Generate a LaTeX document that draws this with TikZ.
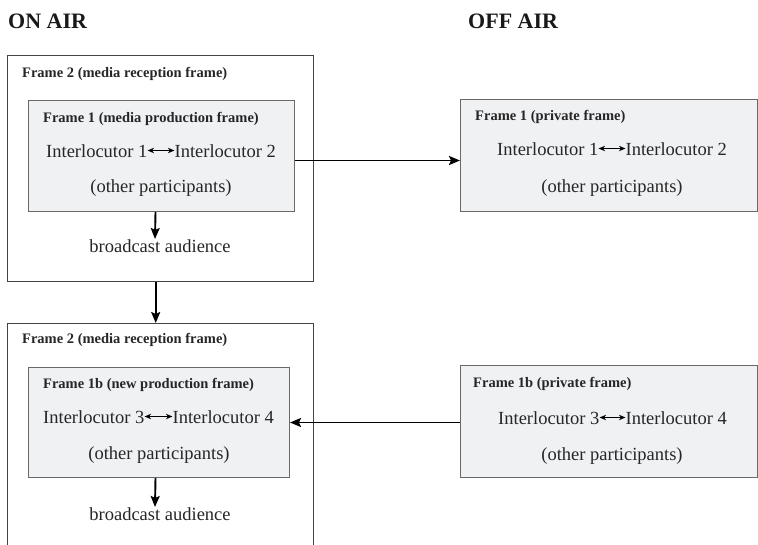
\documentclass[tikz,border=0pt]{standalone}
\usepackage{fontspec}
\setmainfont{Liberation Serif}
\usepackage{tikz}
\usetikzlibrary{arrows.meta}

\definecolor{boxgray}{HTML}{F0F1F3}
\definecolor{edgegray}{HTML}{444444}

\begin{document}
\begin{tikzpicture}[x=1pt,y=-1pt,>={Stealth[length=11pt,width=9pt,inset=2pt]},
    outer box/.style={draw=edgegray,line width=1.4pt,anchor=north west,inner sep=0pt},
    inner box/.style={draw=edgegray!80,fill=boxgray,line width=1pt,anchor=north west,inner sep=0pt},
    head/.style={font=\fontsize{22}{24}\selectfont\rmfamily\bfseries,anchor=base west,inner sep=0pt,text=black!90},
    ttl/.style={font=\fontsize{14.5}{16}\selectfont\rmfamily\bfseries,anchor=base west,inner sep=0pt,text=black!85},
    txt/.style={font=\fontsize{18.5}{20}\selectfont\rmfamily,anchor=base,inner sep=0pt,text=black!85},
    arr/.style={->,line width=1.9pt},
    both/.style={{Stealth[length=6.5pt,width=5.5pt]}-{Stealth[length=6.5pt,width=5.5pt]},line width=1.1pt}]

	\useasboundingbox (0,0) rectangle (758,544);

	\node[head] (on) at (8,28) {ON AIR};
	\node[head] (off) at (468,28) {OFF AIR};

	% on air, upper part
	\node[outer box,minimum width=306pt,minimum height=226pt] (outer1) at (7,55) {};
	\node[inner box,minimum width=266pt,minimum height=111pt] (inner1) at (28,100) {};
	\node[ttl] (t1) at (22,77) {Frame 2 (media reception frame)};
	\node[ttl] (t2) at (43,122) {Frame 1 (media production frame)};
	\node[txt,anchor=base west] (i1) at (46,157) {Interlocutor 1};
	\node[txt,anchor=base east] (i2) at (276,157) {Interlocutor 2};
	\node[txt] (p1) at (161,192) {(other participants)};
	\node[txt] (aud1) at (160,252) {broadcast audience};

	% off air, upper part
	\node[inner box,minimum width=297pt,minimum height=112pt] (right1) at (460,99) {};
	\node[ttl] (t3) at (475,120) {Frame 1 (private frame)};
	\node[txt,anchor=base west] (r1) at (497,155) {Interlocutor 1};
	\node[txt,anchor=base east] (r2) at (727,155) {Interlocutor 2};
	\node[txt] (p2) at (612,192) {(other participants)};

	% on air, lower part
	\node[outer box,minimum width=306pt,minimum height=260pt] (outer2) at (7,323) {};
	\node[inner box,minimum width=261pt,minimum height=110pt] (inner2) at (28,367) {};
	\node[ttl] (t4) at (22,343) {Frame 2 (media reception frame)};
	\node[ttl] (t5) at (43,388) {Frame 1b (new production frame)};
	\node[txt,anchor=base west] (i3) at (43,423) {Interlocutor 3};
	\node[txt,anchor=base east] (i4) at (274,423) {Interlocutor 4};
	\node[txt] (p3) at (159,459) {(other participants)};
	\node[txt] (aud2) at (160,520) {broadcast audience};

	% off air, lower part
	\node[inner box,minimum width=297pt,minimum height=112pt] (right2) at (460,365) {};
	\node[ttl] (t6) at (473,387) {Frame 1b (private frame)};
	\node[txt,anchor=base west] (r3) at (498,424) {Interlocutor 3};
	\node[txt,anchor=base east] (r4) at (727,424) {Interlocutor 4};
	\node[txt] (p4) at (612,460) {(other participants)};

	\draw[both] ([yshift=6.5pt]i1.base east) -- ([yshift=6.5pt]i2.base west);
	\draw[both] ([yshift=6.5pt]r1.base east) -- ([yshift=6.5pt]r2.base west);
	\draw[both] ([yshift=6.5pt]i3.base east) -- ([yshift=6.5pt]i4.base west);
	\draw[both] ([yshift=6.5pt]r3.base east) -- ([yshift=6.5pt]r4.base west);

	\draw[arr] ([xshift=-6pt]inner1.south) -- ([xshift=-5pt]aud1.north);
	\draw[arr] ([xshift=-5pt]outer1.south) -- ([xshift=-5pt]outer2.north);
	\draw[arr] ([yshift=-4.5pt]inner1.east) -- ([yshift=-4.5pt]inner1.east -| right1.west);
	\draw[arr] (right2.west |- inner2.east) -- (inner2.east);
	\draw[arr] ([xshift=-3.5pt]inner2.south) -- ([xshift=-5pt]aud2.north);

\end{tikzpicture}
\end{document}
